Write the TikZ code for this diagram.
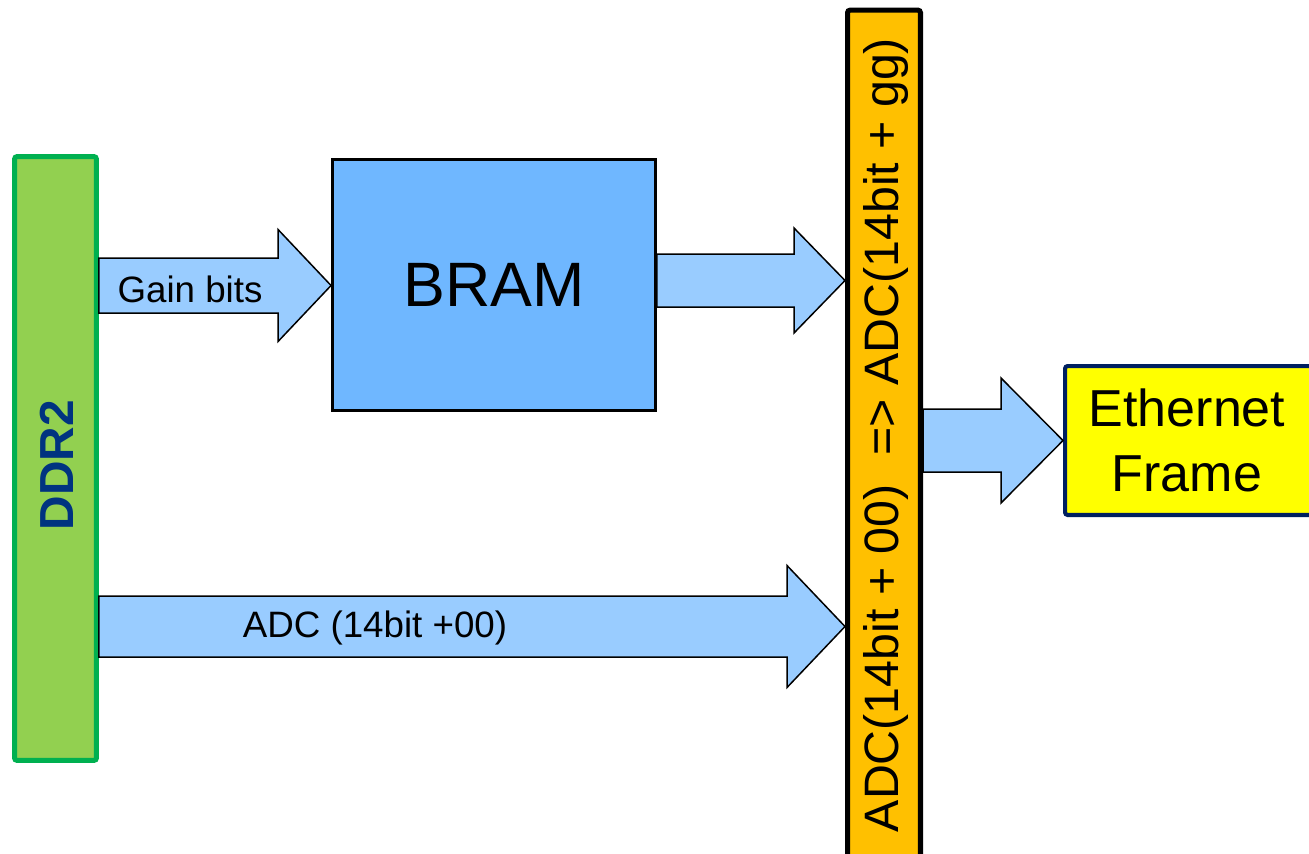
\documentclass[tikz,border=0pt]{standalone}
\usepackage{fontspec}
\setmainfont{Liberation Sans}
\usetikzlibrary{calc,positioning}
\definecolor{leaf}{RGB}{146,208,80}
\definecolor{leafedge}{RGB}{0,176,80}
\definecolor{ddrink}{RGB}{0,51,128}
\definecolor{bramblue}{RGB}{111,183,255}
\definecolor{busblue}{RGB}{153,204,255}
\definecolor{muxgold}{RGB}{255,192,0}
\definecolor{ethyellow}{RGB}{255,255,0}
\definecolor{ethnavy}{RGB}{0,32,96}
\tikzset{
  ddrbox/.style  = {draw=leafedge, fill=leaf, line width=2.85pt, rounded corners=1.5pt,
                    minimum width=1.64cm, minimum height=12.08cm, inner sep=0pt},
  membox/.style  = {draw=black, fill=bramblue, line width=1.7pt,
                    minimum width=6.46cm, minimum height=5.02cm,
                    font=\fontsize{35.7}{40}\selectfont},
  muxbar/.style  = {draw=black, fill=muxgold, line width=2.85pt, rounded corners=1.5pt,
                    minimum width=1.46cm, minimum height=17.2cm, inner sep=0pt},
  ethbox/.style  = {draw=ethnavy, fill=ethyellow, line width=2.3pt, rounded corners=1.5pt,
                    minimum width=5.1cm, minimum height=2.98cm, inner sep=0pt},
  bus/.style     = {draw=black, fill=busblue, line width=0.85pt, line join=miter},
  buslabel/.style= {font=\fontsize{20.9}{25}\selectfont, inner sep=0pt},
}
% fat block arrow: from, to, shaft half height, head half height, head length
\newcommand{\busarrow}[5]{%
  \draw[bus] ($(#1)+(0,-#3)$) -- ($(#2)+(-#5,-#3)$) -- ($(#2)+(-#5,-#4)$) -- (#2)
    -- ($(#2)+(-#5,#4)$) -- ($(#2)+(-#5,#3)$) -- ($(#1)+(0,#3)$) -- cycle;}

\begin{document}
\begin{tikzpicture}[x=0.02cm, y=-0.02cm]
\useasboundingbox (0,0) rectangle (1309,853);
% blocks
\node[ddrbox] (ddr) at (55.5,458.5) {};
\node[rotate=90, text=ddrink, font=\fontsize{27.2}{30}\selectfont\bfseries]
  (ddrlbl) at (57,465) {DDR2};
\node[membox] (bram) at (494,285) {BRAM};
\node[muxbar] (mux) at (884,440) {};
\node[rotate=90, font=\fontsize{27.5}{30}\selectfont, inner sep=0pt]
  (muxlbl) at (886,435) {ADC(14bit + 00)\hspace{0.6em}=> ADC(14bit + gg)};
\node[ethbox] (eth) at (1192.5,440.5) {};
\node[align=center, font=\fontsize{29.6}{37}\selectfont]
  (ethlbl) at (1187,440) {Ethernet\\Frame};

% connection points on the block edges
\coordinate (gainA) at (ddr.east |- 0,285.5);
\coordinate (gainB) at (bram.west |- gainA);
\coordinate (bramA) at (bram.east |- 0,280.5);
\coordinate (bramB) at (mux.west |- bramA);
\coordinate (adcA)  at (ddr.east |- 0,626.5);
\coordinate (adcB)  at (mux.west |- adcA);
\coordinate (ethA)  at (mux.east |- 0,440.5);
\coordinate (ethB)  at (eth.west |- ethA);

% data paths
\busarrow{gainA}{gainB}{27.5}{56}{53}
\busarrow{bramA}{bramB}{26.5}{52.5}{51}
\busarrow{adcA}{adcB}{30.5}{61}{58}
\busarrow{ethA}{ethB}{31.5}{62.5}{62}
\node[buslabel] (gain) at (190,289) {Gain bits};
\node[buslabel] (adc)  at (375,628) {ADC (14bit +00)};
\end{tikzpicture}
\end{document}
